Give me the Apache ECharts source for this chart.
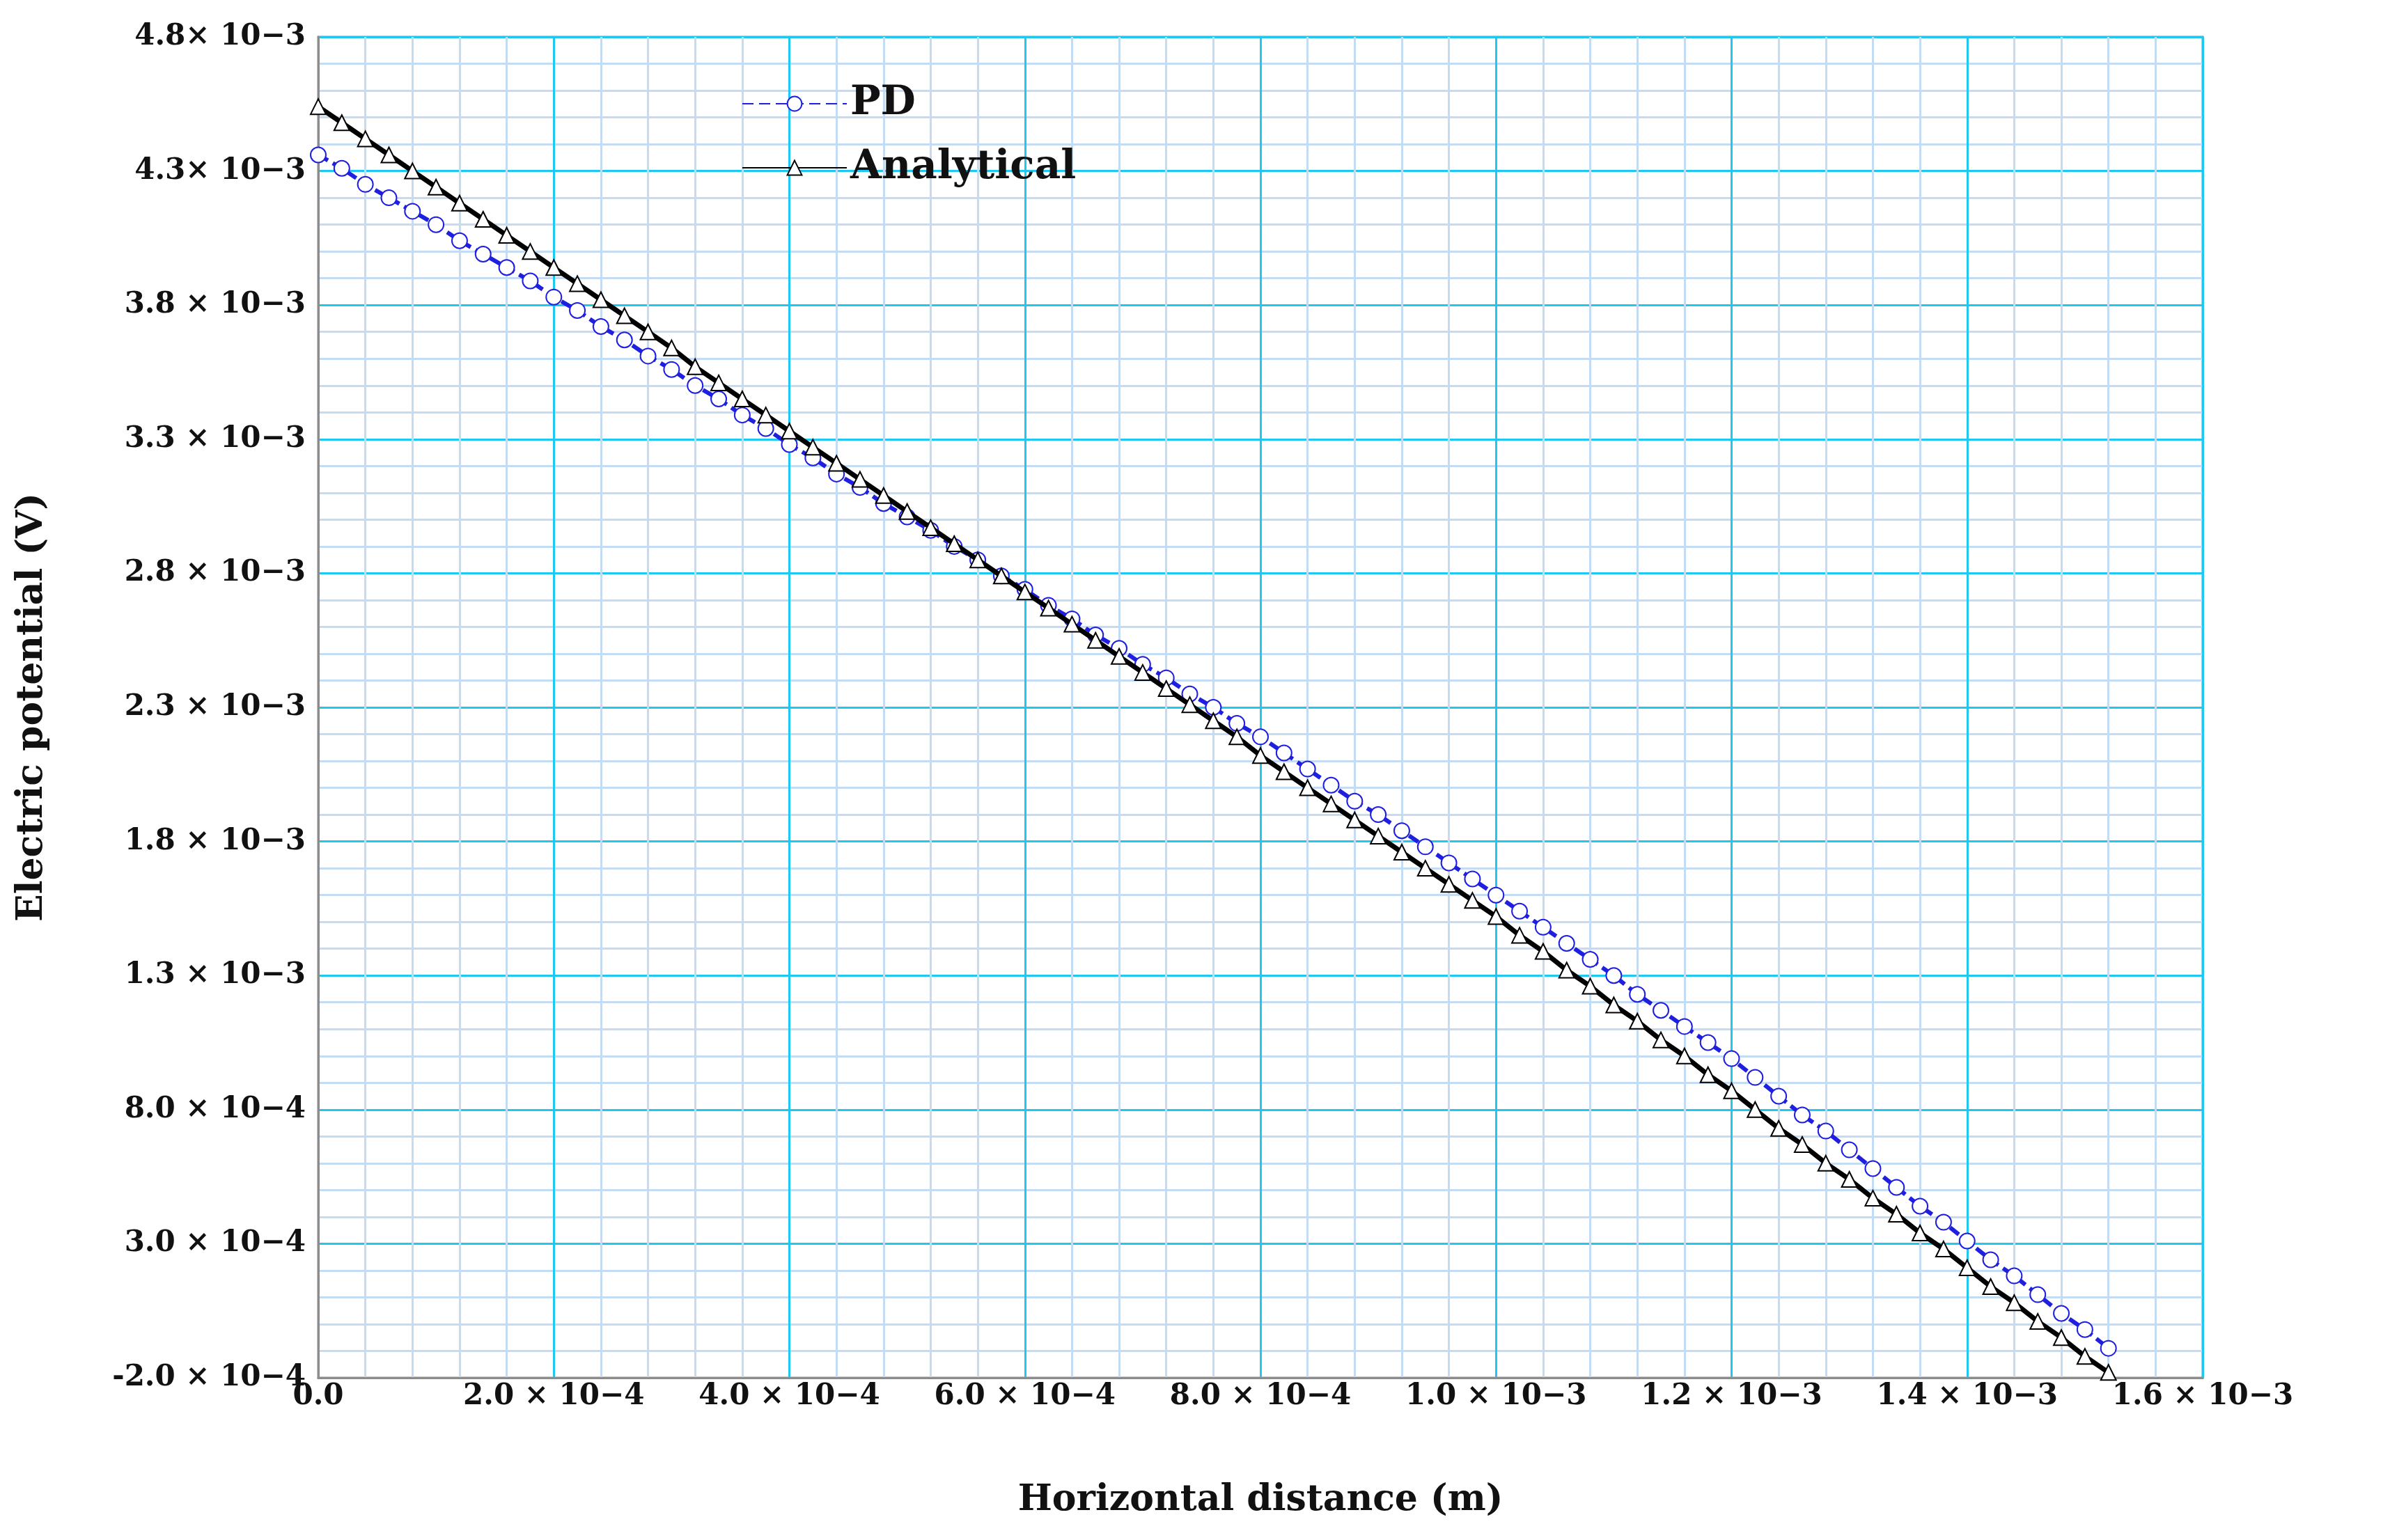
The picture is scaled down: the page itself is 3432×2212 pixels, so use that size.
<!doctype html>
<html>
<head>
<meta charset="UTF-8">
<title>Electric potential</title>
<script src="https://cdn.jsdelivr.net/npm/echarts@6/dist/echarts.min.js"></script>
<style>
  html, body { margin: 0; padding: 0; background: #fff; }
  #chart { width: 3432px; height: 2212px; }
</style>
</head>
<body>
<div id="chart"></div>
<script>
// horizontal distance of the samples, in mm
var xMm = [0,0.02,0.04,0.06,0.08,0.10,0.12,0.14,0.16,0.18,0.20,0.22,0.24,0.26,0.28,0.30,0.32,0.34,0.36,0.38,
  0.40,0.42,0.44,0.46,0.48,0.50,0.52,0.54,0.56,0.58,0.60,0.62,0.64,0.66,0.68,0.70,0.72,0.74,0.76,0.78,
  0.80,0.82,0.84,0.86,0.88,0.90,0.92,0.94,0.96,0.98,1.00,1.02,1.04,1.06,1.08,1.10,1.12,1.14,1.16,1.18,
  1.20,1.22,1.24,1.26,1.28,1.30,1.32,1.34,1.36,1.38,1.40,1.42,1.44,1.46,1.48,1.50,1.52];
// potentials in mV
var pdMv = [4.36,4.31,4.25,4.20,4.15,4.10,4.04,3.99,3.94,3.89,3.83,3.78,3.72,3.67,3.61,3.56,3.50,3.45,3.39,3.34,
  3.28,3.23,3.17,3.12,3.06,3.01,2.96,2.90,2.85,2.79,2.74,2.68,2.63,2.57,2.52,2.46,2.41,2.35,2.30,2.24,
  2.19,2.13,2.07,2.01,1.95,1.90,1.84,1.78,1.72,1.66,1.60,1.54,1.48,1.42,1.36,1.30,1.23,1.17,1.11,1.05,
  0.99,0.92,0.85,0.78,0.72,0.65,0.58,0.51,0.44,0.38,0.31,0.24,0.18,0.11,0.04,-0.02,-0.09];
var analyticalMv = [4.54,4.48,4.42,4.36,4.30,4.24,4.18,4.12,4.06,4.00,3.94,3.88,3.82,3.76,3.70,3.64,3.57,3.51,3.45,3.39,
  3.33,3.27,3.21,3.15,3.09,3.03,2.97,2.91,2.85,2.79,2.73,2.67,2.61,2.55,2.49,2.43,2.37,2.31,2.25,2.19,
  2.12,2.06,2.00,1.94,1.88,1.82,1.76,1.70,1.64,1.58,1.52,1.45,1.39,1.32,1.26,1.19,1.13,1.06,1.00,0.93,
  0.87,0.80,0.73,0.67,0.60,0.54,0.47,0.41,0.34,0.28,0.21,0.14,0.08,0.01,-0.05,-0.12,-0.18];

var xTickLabels = ['0.0','2.0 \u00d7 10\u22124','4.0 \u00d7 10\u22124','6.0 \u00d7 10\u22124','8.0 \u00d7 10\u22124',
  '1.0 \u00d7 10\u22123','1.2 \u00d7 10\u22123','1.4 \u00d7 10\u22123','1.6 \u00d7 10\u22123'];
var yTickLabels = ['-2.0 \u00d7 10\u22124','3.0 \u00d7 10\u22124','8.0 \u00d7 10\u22124','1.3 \u00d7 10\u22123','1.8 \u00d7 10\u22123',
  '2.3 \u00d7 10\u22123','2.8 \u00d7 10\u22123','3.3 \u00d7 10\u22123','3.8 \u00d7 10\u22123','4.3\u00d7 10\u22123','4.8\u00d7 10\u22123'];

// y axis starts at -2e-4, so values are plotted relative to that bottom line
var yBase = -0.0002;
function toSeries(arr) {
  return arr.map(function (v, i) { return [xMm[i] / 1000, v / 1000 - yBase]; });
}

var serif = '"DejaVu Serif", "Liberation Serif", serif';
var chart = echarts.init(document.getElementById('chart'));
chart.setOption({
  animation: false,
  backgroundColor: '#fff',
  grid: { left: 457, right: 269, top: 53, bottom: 233, show: true, borderColor: '#8c8c8c', borderWidth: 3 },
  legend: {
    left: 1060, top: 115, orient: 'vertical', itemGap: 34,
    itemWidth: 150, itemHeight: 26,
    textStyle: { fontFamily: serif, fontWeight: 'bold', fontSize: 58, color: '#111' },
    data: ['PD', 'Analytical']
  },
  xAxis: {
    type: 'value', min: 0, max: 0.0016, interval: 0.0002,
    name: 'Horizontal distance (m)', nameLocation: 'middle', nameGap: 150,
    nameTextStyle: { fontFamily: serif, fontWeight: 'bold', fontSize: 52, color: '#111' },
    axisLine: { show: true, lineStyle: { color: '#8c8c8c', width: 3 } },
    axisTick: { show: false },
    axisLabel: {
      margin: 6, fontFamily: serif, fontWeight: 'bold', fontSize: 42, color: '#111',
      formatter: function (v) { return xTickLabels[Math.round(v / 0.0002)]; }
    },
    splitLine: { show: true, lineStyle: { color: '#1ec8f0', width: 3 } },
    minorTick: { show: false, splitNumber: 5 },
    minorSplitLine: { show: true, lineStyle: { color: '#c3dbf3', width: 3 } }
  },
  yAxis: {
    type: 'value', min: 0, max: 0.005, interval: 0.0005,
    name: 'Electric potential (V)', nameLocation: 'middle', nameGap: 385,
    nameTextStyle: { fontFamily: serif, fontWeight: 'bold', fontSize: 52, color: '#111' },
    axisLine: { show: true, lineStyle: { color: '#8c8c8c', width: 3 } },
    axisTick: { show: false },
    axisLabel: {
      margin: 18, fontFamily: serif, fontWeight: 'bold', fontSize: 42, color: '#111',
      formatter: function (v) { return yTickLabels[Math.round(v / 0.0005)]; }
    },
    splitLine: { show: true, lineStyle: { color: '#1ec8f0', width: 3 } },
    minorTick: { show: false, splitNumber: 5 },
    minorSplitLine: { show: true, lineStyle: { color: '#c3dbf3', width: 3 } }
  },
  series: [
    {
      name: 'PD', type: 'line', data: toSeries(pdMv),
      symbol: 'emptyCircle', symbolSize: 22,
      lineStyle: { color: '#1f1fe0', width: 6, type: [16, 8] },
      itemStyle: { color: '#1f1fe0', borderWidth: 4 },
      z: 3
    },
    {
      name: 'Analytical', type: 'line', data: toSeries(analyticalMv),
      symbol: 'emptyTriangle', symbolSize: 22,
      lineStyle: { color: '#000', width: 7 },
      itemStyle: { color: '#000', borderWidth: 4 },
      z: 4
    }
  ]
});
</script>
</body>
</html>
